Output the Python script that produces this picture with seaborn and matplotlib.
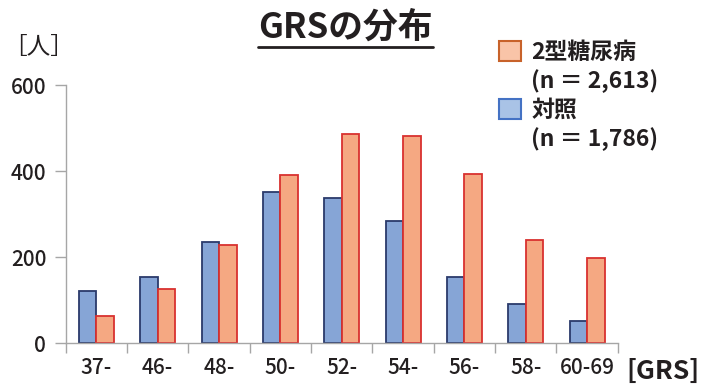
import matplotlib.pyplot as plt
from matplotlib.patches import Patch
from matplotlib.lines import Line2D
import seaborn as sns
import pandas as pd
import numpy as np

# GRS distribution: controls vs type 2 diabetes
grs_bins = ['37-', '46-', '48-', '50-', '52-', '54-', '56-', '58-', '60-69']
control = [122, 154, 235, 353, 338, 285, 155, 91, 53]
t2d = [64, 126, 229, 391, 487, 483, 394, 240, 198]
groups = ['対照', '2型糖尿病']
legend_labels = ['2型糖尿病', '(n ＝ 2,613)', '対照', '(n ＝ 1,786)']

df = pd.DataFrame({
    'GRS': grs_bins * 2,
    'count': control + t2d,
    'group': [groups[0]] * len(grs_bins) + [groups[1]] * len(grs_bins),
})

sns.set_theme(style='white')
plt.rcParams['font.family'] = ['Noto Sans CJK JP', 'DejaVu Sans']

fill = {'対照': '#86a5d6', '2型糖尿病': '#f5a882'}
edge = {'対照': '#2b3a6b', '2型糖尿病': '#d9312f'}
axis_gray = '#a6a6a6'
txt = '#231f20'
fs = 15

fig = plt.figure(figsize=[7.02, 3.85], dpi=100)
ax = fig.add_axes([0.0936, 0.108, 0.7864, 0.67])

sns.barplot(data=df, x='GRS', y='count', hue='group', hue_order=groups,
            order=grs_bins, palette=fill, width=0.57, gap=0, saturation=1,
            legend=False, ax=ax)
for cont, g in zip(ax.containers, groups):
    for bar in cont:
        bar.set_edgecolor(edge[g])
        bar.set_linewidth(1.3)

ax.set_xlim(-0.5, len(grs_bins) - 0.5)
ax.set_ylim(0, 600)
ax.set_yticks([0, 200, 400, 600])
ax.set_xticks(np.arange(len(grs_bins) + 1) - 0.5)
ax.set_xticklabels([])
ax.set_xticks(np.arange(len(grs_bins)), minor=True)
ax.set_xticklabels(grs_bins, minor=True)
ax.tick_params(axis='x', which='major', direction='out', length=7, width=1,
               color=axis_gray, bottom=True)
ax.tick_params(axis='x', which='minor', length=0, pad=10, labelsize=fs, labelcolor=txt)
ax.tick_params(axis='y', direction='out', length=8, width=1, color=axis_gray,
               left=True, labelsize=fs, labelcolor=txt, pad=6)
for lab in ax.get_xticklabels(minor=True) + ax.get_yticklabels():
    lab.set_fontweight('medium')
for s in ['top', 'right']:
    ax.spines[s].set_visible(False)
for s in ['left', 'bottom']:
    ax.spines[s].set_color(axis_gray)
    ax.spines[s].set_linewidth(1)
ax.set_xlabel('')
ax.set_ylabel('')

fig.text(0.004, 0.877, '［人］', fontsize=17, color=txt, va='center', ha='left')
fig.text(0.997, 0.036, '[GRS]', fontsize=19, fontweight='bold', color=txt,
         va='center', ha='right')

title = fig.text(0.492, 0.93, 'GRSの分布', fontsize=25, fontweight='bold',
                 color=txt, ha='center', va='center')

handles = [
    Patch(facecolor='#f9c4a8', edgecolor='#c8622a', linewidth=1.5),
    Patch(facecolor='none', edgecolor='none'),
    Patch(facecolor='#a9c3e6', edgecolor='#4472c4', linewidth=1.5),
    Patch(facecolor='none', edgecolor='none'),
]
leg = fig.legend(handles, legend_labels, loc='upper left', bbox_to_anchor=(0.711, 0.894),
                 frameon=False, fontsize=16.5, handlelength=0.95, handleheight=0.95,
                 handletextpad=0.45, labelspacing=0.24, borderpad=0, borderaxespad=0)
for t in leg.get_texts():
    t.set_color(txt)
    t.set_fontweight('bold')

# underline the title
fig.canvas.draw()
bb = title.get_window_extent().transformed(fig.transFigure.inverted())
uy = 1 - 46.5 / 385
fig.add_artist(Line2D([bb.x0, bb.x1], [uy, uy],
                      transform=fig.transFigure, color=txt, linewidth=2))

fig.savefig('out.png', dpi=100)
